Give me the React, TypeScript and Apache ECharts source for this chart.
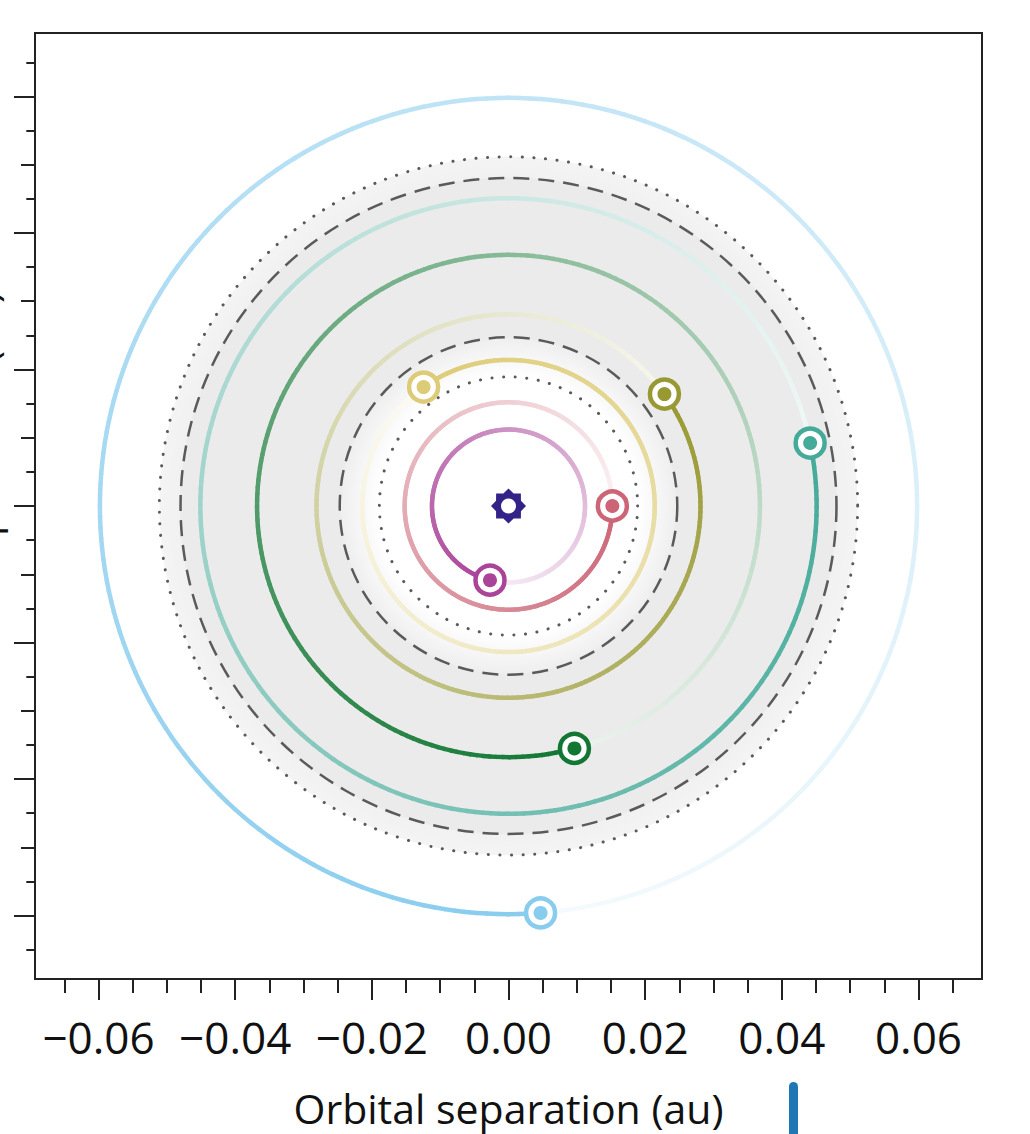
import React, { useEffect, useRef } from "react";
import * as echarts from "echarts";

// ---- data ----
const planetNames = ["b", "c", "d", "e", "f", "g", "h"];
const planetRadiusAu = [0.0112, 0.0152, 0.0214, 0.0281, 0.0368, 0.0451, 0.0598];
const planetPhaseDeg = [256, 0, 125.5, 35.7, 285.2, 11.8, 274.5];
const planetColors = ["#AA4499", "#CC6677", "#DDCC77", "#999933", "#117733", "#44AA99", "#88CCEE"];
const starColor = "#332288";
// habitable zone boundaries (au)
const hzOptimistic = [0.0189, 0.0511];
const hzConservative = [0.0247, 0.048];
// axis ticks
const majorTicks = [-0.06, -0.04, -0.02, 0, 0.02, 0.04, 0.06];
const mediumTicksY = [-0.05, -0.03, -0.01, 0.01, 0.03, 0.05];
const minorTicks = [-0.065, -0.055, -0.045, -0.035, -0.025, -0.015, -0.005, 0.005, 0.015, 0.025, 0.035, 0.045, 0.055, 0.065];
const minorTicksX = [-0.065, -0.055, -0.05, -0.045, -0.035, -0.03, -0.025, -0.015, -0.01, -0.005, 0.005, 0.01, 0.015, 0.025, 0.03, 0.035, 0.045, 0.05, 0.055, 0.065];
const axisLimit = 0.0693;

const FONT = "Open Sans";

function hexToRgb(h: string) {
  const n = parseInt(h.slice(1), 16);
  return [(n >> 16) & 255, (n >> 8) & 255, n & 255];
}
function mixWhite(h: string, f: number) {
  const [r, g, b] = hexToRgb(h);
  const m = (c: number) => Math.round(255 + (c - 255) * f);
  return `rgb(${m(r)},${m(g)},${m(b)})`;
}

function starPath() {
  const pts: string[] = [];
  for (let k = 0; k < 16; k++) {
    const a = (k * 22.5 - 90) * Math.PI / 180;
    const rr = k % 2 === 0 ? 50 : 50 * 0.77;
    pts.push(`${(50 + rr * Math.cos(a)).toFixed(2)} ${(50 + rr * Math.sin(a)).toFixed(2)}`);
  }
  return "path://M" + pts.join(" L") + " Z";
}

const fmt = (v: number) => {
  const s = Math.abs(v).toFixed(2);
  return v < 0 ? "\u2212" + s : s;
};

export default function App() {
  const ref = useRef<HTMLDivElement>(null);
  useEffect(() => {
    if (!ref.current) return;
    const chart = echarts.init(ref.current, null, { renderer: "svg" });

    const planetXY = planetRadiusAu.map((r, i) => {
      const a = planetPhaseDeg[i] * Math.PI / 180;
      return [r * Math.cos(a), r * Math.sin(a)];
    });

    const tickStyle = { color: "#222", width: 2 };
    const baseAxis = {
      type: "value",
      min: -axisLimit,
      max: axisLimit,
      splitLine: { show: false },
      axisLine: { show: false, onZero: false },
    };

    const option: any = {
      animation: false,
      backgroundColor: "#fff",
      grid: {
        left: 35, top: 33, right: 48, bottom: 155,
        show: true, borderColor: "#222", borderWidth: 2, backgroundColor: "transparent",
        containLabel: false, outerBoundsMode: "none",
      },
      xAxis: [
        {
          ...baseAxis,
          position: "bottom",
          axisTick: { show: true, customValues: majorTicks, length: 21, lineStyle: tickStyle },
          axisLabel: { show: true, customValues: majorTicks, formatter: fmt, fontSize: 44, color: "#111", fontFamily: FONT, margin: 36 },
          name: "Orbital separation (au)",
          nameLocation: "middle",
          nameGap: 108,
          nameTextStyle: { fontSize: 41, color: "#111", fontFamily: FONT },
        },
        {
          ...baseAxis,
          position: "bottom",
          axisTick: { show: true, customValues: minorTicksX, length: 14, lineStyle: tickStyle },
          axisLabel: { show: false },
        },
      ],
      yAxis: [
        {
          ...baseAxis,
          position: "left",
          axisTick: { show: true, customValues: majorTicks, length: 21, lineStyle: tickStyle },
          axisLabel: { show: false },
          name: "Orbital separation (au)",
          nameLocation: "middle",
          nameRotate: 90,
          nameGap: 33,
          nameTextStyle: { fontSize: 41, color: "#111", fontFamily: FONT },
        },
        {
          ...baseAxis,
          position: "left",
          axisTick: { show: true, customValues: mediumTicksY, length: 14, lineStyle: tickStyle },
          axisLabel: { show: false },
        },
        {
          ...baseAxis,
          position: "left",
          axisTick: { show: true, customValues: minorTicks, length: 8.7, lineStyle: tickStyle },
          axisLabel: { show: false },
        },
      ],
      graphic: [
        {
          type: "rect",
          shape: { x: 789, y: 1082, width: 9, height: 60, r: [4.5, 4.5, 0, 0] },
          style: { fill: "#1f77b4" },
        },
      ],
      series: [
        // habitable zone shading
        {
          type: "custom",
          name: "hz-fill",
          z: 1,
          silent: true,
          data: [[hzOptimistic[1], 0]],
          renderItem: (params: any, api: any) => {
            const c = api.coord([0, 0]);
            const R = api.coord([hzOptimistic[1], 0])[0] - c[0];
            const o = hzOptimistic[1];
            const s1 = hzOptimistic[0] / o;
            const s2 = hzConservative[0] / o;
            const s3 = hzConservative[1] / o;
            return {
              type: "circle",
              shape: { cx: c[0], cy: c[1], r: R },
              style: {
                fill: {
                  type: "radial", x: 0.5, y: 0.5, r: 0.5,
                  colorStops: [
                    { offset: 0, color: "#ffffff" },
                    { offset: s1, color: "#ffffff" },
                    { offset: s2 - 0.005, color: "#efefef" },
                    { offset: s2, color: "#ebebeb" },
                    { offset: s3, color: "#ebebeb" },
                    { offset: s3 + 0.003, color: "#f1f1f1" },
                    { offset: 1, color: "#f4f4f4" },
                  ],
                },
                stroke: null,
              },
            };
          },
        },
        // HZ boundary circles
        {
          type: "custom",
          name: "hz-lines",
          z: 2,
          silent: true,
          data: [
            [hzOptimistic[0], 0],
            [hzOptimistic[1], 0],
            [hzConservative[0], 1],
            [hzConservative[1], 1],
          ],
          renderItem: (params: any, api: any) => {
            const r = api.value(0);
            const kind = api.value(1);
            const c = api.coord([0, 0]);
            const R = api.coord([r, 0])[0] - c[0];
            return {
              type: "circle",
              shape: { cx: c[0], cy: c[1], r: R },
              style: kind === 1
                ? { fill: null, stroke: "#5a5a5a", lineWidth: 2.5, lineDash: [16, 9] }
                : { fill: null, stroke: "#5a5a5a", lineWidth: 3, lineDash: [0.1, 11.5], lineCap: "round" },
            };
          },
        },
        // orbit trails
        {
          type: "custom",
          name: "trails",
          z: 3,
          silent: true,
          data: planetRadiusAu.map((r, i) => [r, planetPhaseDeg[i]]),
          renderItem: (params: any, api: any) => {
            const r = api.value(0);
            const ph = (api.value(1) * Math.PI) / 180;
            const col = planetColors[params.dataIndex];
            const N = 240;
            const children: any[] = [];
            for (let i = N - 1; i >= 0; i--) {
              const a0 = ph - (i / N) * 2 * Math.PI;
              const a1 = ph - ((i + 1) / N) * 2 * Math.PI;
              const p0 = api.coord([r * Math.cos(a0), r * Math.sin(a0)]);
              const p1 = api.coord([r * Math.cos(a1), r * Math.sin(a1)]);
              const t = 1 - (i + 0.5) / N;
              const f = 0.08 + 0.92 * t;
              children.push({
                type: "line",
                shape: { x1: p0[0], y1: p0[1], x2: p1[0], y2: p1[1] },
                style: { stroke: mixWhite(col, f), lineWidth: 4.5, lineCap: "round" },
              });
            }
            return { type: "group", children };
          },
        },
        // star
        {
          type: "scatter",
          name: "star",
          z: 5,
          silent: true,
          symbol: starPath(),
          symbolSize: 35,
          itemStyle: { color: starColor, opacity: 1 },
          data: [[0, 0]],
        },
        {
          type: "scatter",
          name: "star-core",
          z: 6,
          silent: true,
          symbol: "circle",
          symbolSize: 15,
          itemStyle: { color: "#fff", opacity: 1 },
          data: [[0, 0]],
        },
        // planets
        {
          type: "scatter",
          name: "planet-ring",
          z: 7,
          silent: true,
          symbol: "circle",
          symbolSize: 29,
          data: planetXY.map((p, i) => ({
            name: planetNames[i],
            value: p,
            itemStyle: { color: "#fff", borderColor: planetColors[i], borderWidth: 4.5, opacity: 1 },
          })),
        },
        {
          type: "scatter",
          name: "planet-core",
          z: 8,
          silent: true,
          symbol: "circle",
          symbolSize: 14,
          data: planetXY.map((p, i) => ({
            name: planetNames[i],
            value: p,
            itemStyle: { color: planetColors[i], opacity: 1 },
          })),
        },
      ],
    };
    chart.setOption(option);
    return () => chart.dispose();
  }, []);

  return (
    <div
      ref={ref}
      style={{ position: "fixed", left: 0, top: 0, width: 1030, height: 1134 }}
    />
  );
}
